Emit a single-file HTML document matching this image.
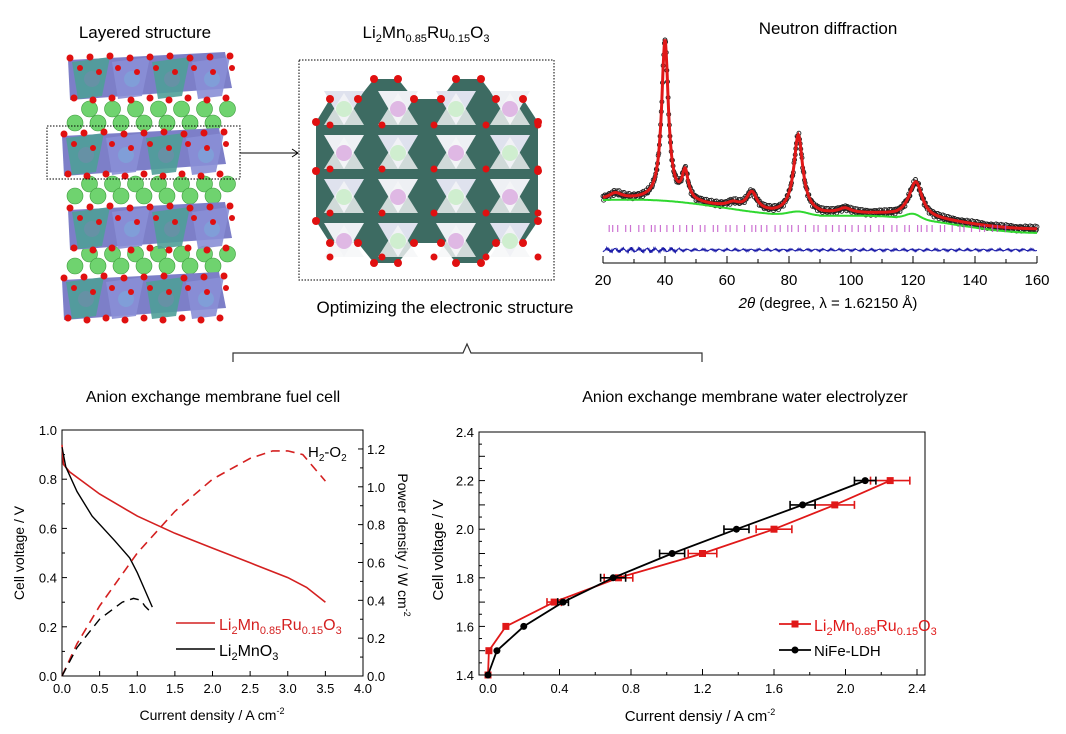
<!DOCTYPE html>
<html><head><meta charset="utf-8"><style>
body{margin:0;background:#fff;}
svg{display:block;font-family:"Liberation Sans",Arial,sans-serif;}
</style></head><body>
<svg id="s" width="1066" height="734" viewBox="0 0 1066 734" xmlns="http://www.w3.org/2000/svg">
<rect width="1066" height="734" fill="#fff"/>
<text x="145" y="38" font-size="17" text-anchor="middle">Layered structure</text>
<text x="426" y="38" font-size="17" text-anchor="middle">Li<tspan font-size="11" dy="4">2</tspan><tspan dy="-4">Mn</tspan><tspan font-size="11" dy="4">0.85</tspan><tspan dy="-4">Ru</tspan><tspan font-size="11" dy="4">0.15</tspan><tspan dy="-4">O</tspan><tspan font-size="11" dy="4">3</tspan></text>
<text x="828" y="34" font-size="17" text-anchor="middle">Neutron diffraction</text>
<text x="445" y="313" font-size="17" text-anchor="middle">Optimizing the electronic structure</text>
<text x="213" y="402" font-size="16" text-anchor="middle">Anion exchange membrane fuel cell</text>
<text x="745" y="402" font-size="16" text-anchor="middle">Anion exchange membrane water electrolyzer</text>
<path d="M233,362 L233,353 L463,353 L467,344 L471,353 L702,353 L702,362" fill="none" stroke="#333" stroke-width="1.2"/>
<g id="layers"></g>
<rect x="47" y="126" width="193" height="53" fill="none" stroke="#000" stroke-dasharray="1.5,1.5"/>
<path d="M240,153 L298,153 M292,149 L298,153 L292,157" fill="none" stroke="#000"/>
<rect x="299" y="60" width="255" height="220" fill="none" stroke="#000" stroke-dasharray="1.5,1.5"/>
<g id="top"></g>
<g id="nd"></g>
<g id="fc"></g>
<g id="el"></g>
</svg>
<script>
const NS="http://www.w3.org/2000/svg";
function el(p,t,a,txt){const e=document.createElementNS(NS,t);for(const k in a)e.setAttribute(k,a[k]);if(txt!==undefined)e.textContent=txt;p.appendChild(e);return e;}
const L=document.getElementById('layers');
const lay=[[52,100],[128,176],[202,250],[272,320]];
const greens=[[105,127],[180,200],[250,270]];
greens.forEach(([a,b])=>{for(let i=0;i<14;i++){const x=75+i*11.5+(i%2?3:0);const y=(i%2?a+4:b-4);el(L,'circle',{cx:x,cy:y,r:8,fill:'#6fd36f',stroke:'#3a9a3a','stroke-width':0.6});}});
lay.forEach(([a,b],li)=>{const off=li%2?-6:0;
 el(L,'polygon',{points:`${68+off},${a+8} ${225+off},${a} ${232+off},${b-12} ${70+off},${b}`,fill:'#7d7fc8'});
 for(let i=0;i<4;i++){const x=72+off+i*40;el(L,'polygon',{points:`${x},${a+10} ${x+38},${a+5} ${x+30},${b-4} ${x+6},${b-1}`,fill:i%2?'#8a8fd6':'#4f9e98',opacity:0.9});
  el(L,'circle',{cx:x+20,cy:(a+b)/2+3,r:8,fill:i%2?'#7ea2d8':'#6b8fa8',opacity:0.8});}
 for(let i=0;i<9;i++){el(L,'circle',{cx:70+off+i*20,cy:a+6-(i%3),r:3.5,fill:'#e01010'});el(L,'circle',{cx:74+off+i*19,cy:b-2+(i%2)*2,r:3.5,fill:'#e01010'});el(L,'circle',{cx:80+off+i*19,cy:(a+b)/2-8+(i%2)*4,r:3,fill:'#e01010'});}
});
const T=document.getElementById('top');
el(T,'polygon',{points:'316,122 330,99 358,99 374,79 398,79 414,99 441,99 456,79 481,79 496,99 523,99 538,122 538,221 523,243 496,243 481,263 456,263 441,243 414,243 398,263 374,263 358,243 330,243 316,221',fill:'#3d6b62'});
const cols=[344,398,456,510],rows=[105,149,193,237];
for(let r=0;r<4;r++)for(let c=0;c<4;c++){const x=cols[c],y=rows[r];
 el(T,'polygon',{points:`${x-20},${y-14} ${x+20},${y-14} ${x},${y+20}`,fill:(r+c)%2?'#eef0f4':'#dfe2ee'});
 el(T,'polygon',{points:`${x-20},${y+20} ${x+20},${y+20} ${x},${y-12}`,fill:'#f5f6f8',opacity:0.8});
 el(T,'circle',{cx:x,cy:y+4,r:8,fill:(r+c)%2?'#dfb8e4':'#cfeecf'});}
[[330,99],[358,99],[374,79],[398,79],[414,99],[441,99],[456,79],[481,79],[496,99],[523,99],[316,122],[538,122],[316,171],[538,171],[316,221],[538,221],[330,243],[358,243],[374,263],[398,263],[414,243],[441,243],[456,263],[481,263],[496,243],[523,243]].forEach(p=>el(T,'circle',{cx:p[0],cy:p[1],r:4,fill:'#e01010'}));
for(let r=0;r<4;r++)for(let c=0;c<5;c++)el(T,'circle',{cx:330+c*52,cy:125+r*44,r:3.5,fill:'#e01010'});
const N=document.getElementById('nd');
const X=t=>603+(t-20)*3.1;
function bg(t){return 200+(t-20)*0.19-3*Math.sin((t-20)/12)+(t>75&&t<90?-4*Math.exp(-((t-83)**2)/20):0)+(t>115&&t<127?-5*Math.exp(-((t-120)**2)/10):0);}
function pk(t){const p=[[40,160,1.3],[46.5,28,1.2],[68,18,2.0],[83,75,1.7],[121,30,2.4],[62,5,2.5],[98,5,2.5],[24,6,2.5]];let s=0;p.forEach(([c,h,w])=>s+=h/(1+((t-c)/w)**2));return s;}
let obs='',calc='',g='',d='';
for(let t=20;t<=160;t+=0.2){const yy=bg(t)-pk(t);const rnd=(Math.sin(t*37.1)*Math.cos(t*13.7))*3;obs+=`M${X(t)-2},${(yy+rnd).toFixed(1)}a2,2 0 1,0 4,0a2,2 0 1,0 -4,0`;calc+=(t==20?'M':'L')+X(t).toFixed(1)+','+yy.toFixed(1);g+=(t==20?'M':'L')+X(t).toFixed(1)+','+(bg(t)+(t>60?(t-60)*0.04:0)).toFixed(1);d+=(t==20?'M':'L')+X(t).toFixed(1)+','+(250+Math.sin(t*53.3)*Math.cos(t*7.1)*(t<45?3:1.5)).toFixed(1);}
el(N,'path',{d:obs,fill:'none',stroke:'#222','stroke-width':0.9});
el(N,'path',{d:g,fill:'none',stroke:'#2fd82f','stroke-width':2});
el(N,'path',{d:calc,fill:'none',stroke:'#e01818','stroke-width':3});
el(N,'path',{d:d,fill:'none',stroke:'#1a1aa8','stroke-width':1});
let tk='';for(let t=22;t<150;t+=1.1+Math.abs(Math.sin(t*3))*1.6){tk+=`M${X(t).toFixed(1)},225v7`;}
el(N,'path',{d:tk,stroke:'#c050c8','stroke-width':1.2,opacity:0.8});
el(N,'line',{x1:603,y1:263,x2:1037,y2:263,stroke:'#000'});
for(let t=20;t<=160;t+=10){el(N,'line',{x1:X(t),y1:263,x2:X(t),y2:t%20?259:256,stroke:'#000'});if(t%20==0)el(N,'text',{x:X(t),y:285,'font-size':15,'text-anchor':'middle'},t);}
const tt=el(N,'text',{x:828,y:308,'font-size':15,'text-anchor':'middle'});tt.innerHTML='<tspan font-style="italic">2θ</tspan> (degree, λ = 1.62150 Å)';
const F=document.getElementById('fc');
const fx=x=>62+x*75.25, fy=v=>676-v*246, fp=p=>676-p*189.2;
el(F,'rect',{x:62,y:430,width:301,height:246,fill:'none',stroke:'#000'});
for(let i=0;i<=8;i++){const x=fx(i*0.5);el(F,'line',{x1:x,y1:676,x2:x,y2:671,stroke:'#000'});el(F,'text',{x:x,y:693,'font-size':13,'text-anchor':'middle'},(i*0.5).toFixed(1));}
for(let i=0;i<=10;i++){const y=fy(i*0.1);el(F,'line',{x1:62,y1:y,x2:i%2?65:67,y2:y,stroke:'#000'});if(i%2==0)el(F,'text',{x:57,y:y+5,'font-size':13,'text-anchor':'end'},(i*0.1).toFixed(1));}
for(let i=0;i<=13;i++){const y=fp(i*0.1);el(F,'line',{x1:363,y1:y,x2:i%2?360:358,y2:y,stroke:'#000'});if(i%2==0)el(F,'text',{x:367,y:y+5,'font-size':13},(i*0.1).toFixed(1));}
function pl(p,pts,fxn,fyn,a){el(p,'path',Object.assign({d:pts.map((q,i)=>(i?'L':'M')+fxn(q[0]).toFixed(1)+','+fyn(q[1]).toFixed(1)).join(''),fill:'none'},a));}
pl(F,[[0,0.94],[0.02,0.86],[0.1,0.83],[0.5,0.74],[1,0.65],[1.5,0.58],[2,0.52],[2.5,0.46],[3,0.40],[3.25,0.36],[3.5,0.30]],fx,fy,{stroke:'#d42020','stroke-width':1.6});
pl(F,[[0,0.93],[0.05,0.85],[0.2,0.75],[0.4,0.65],[0.7,0.55],[0.9,0.48],[1.0,0.42],[1.1,0.35],[1.2,0.28]],fx,fy,{stroke:'#000','stroke-width':1.4});
pl(F,[[0,0],[0.2,0.17],[0.5,0.37],[1,0.65],[1.5,0.87],[2,1.04],[2.5,1.15],[2.8,1.19],[3.0,1.19],[3.2,1.17],[3.35,1.10],[3.5,1.03]],fx,fp,{stroke:'#d42020','stroke-width':1.6,'stroke-dasharray':'9,6'});
pl(F,[[0,0],[0.2,0.15],[0.5,0.30],[0.8,0.39],[0.95,0.41],[1.05,0.40],[1.1,0.37],[1.2,0.33]],fx,fp,{stroke:'#000','stroke-width':1.4,'stroke-dasharray':'9,6'});
el(F,'line',{x1:176,y1:623,x2:215,y2:623,stroke:'#d42020','stroke-width':1.6});
el(F,'line',{x1:176,y1:649,x2:215,y2:649,stroke:'#000','stroke-width':1.4});
el(F,'text',{x:219,y:630,'font-size':16,fill:'#d42020'}).innerHTML='Li<tspan font-size="11" dy="4">2</tspan><tspan dy="-4">Mn</tspan><tspan font-size="11" dy="4">0.85</tspan><tspan dy="-4">Ru</tspan><tspan font-size="11" dy="4">0.15</tspan><tspan dy="-4">O</tspan><tspan font-size="11" dy="4">3</tspan>';
el(F,'text',{x:219,y:656,'font-size':16}).innerHTML='Li<tspan font-size="11" dy="4">2</tspan><tspan dy="-4">MnO</tspan><tspan font-size="11" dy="4">3</tspan>';
el(F,'text',{x:308,y:457,'font-size':15}).innerHTML='H<tspan font-size="10" dy="4">2</tspan><tspan dy="-4">-O</tspan><tspan font-size="10" dy="4">2</tspan>';
el(F,'text',{x:0,y:0,'font-size':14,'text-anchor':'middle',transform:'translate(24,553) rotate(-90)'},'Cell voltage / V');
el(F,'text',{x:0,y:0,'font-size':14,'text-anchor':'middle',transform:'translate(398,545) rotate(90)'}).innerHTML='Power density / W cm<tspan font-size="9" dy="-6">-2</tspan>';
el(F,'text',{x:212,y:720,'font-size':14,'text-anchor':'middle'}).innerHTML='Current density / A cm<tspan font-size="9" dy="-6">-2</tspan>';
const E=document.getElementById('el');
const ex=x=>488+x*178.75, ey=v=>675-(v-1.4)*243;
el(E,'rect',{x:479,y:432,width:446,height:243,fill:'none',stroke:'#000'});
for(let i=0;i<=12;i++){const x=ex(i*0.2);el(E,'line',{x1:x,y1:675,x2:x,y2:i%2?672:669,stroke:'#000'});if(i%2==0)el(E,'text',{x:x,y:693,'font-size':13,'text-anchor':'middle'},(i*0.2).toFixed(1));}
for(let i=0;i<=20;i++){const y=ey(1.4+i*0.05);el(E,'line',{x1:479,y1:y,x2:i%2?482:485,y2:y,stroke:'#000'});if(i%4==0)el(E,'text',{x:474,y:y+5,'font-size':13,'text-anchor':'end'},(1.4+i*0.05).toFixed(1));}
const red=[[0,1.4,0],[0.005,1.5,0],[0.1,1.6,0],[0.37,1.7,0.04],[0.73,1.8,0.08],[1.2,1.9,0.08],[1.6,2.0,0.1],[1.94,2.1,0.11],[2.25,2.2,0.11]];
const blk=[[0,1.4,0],[0.05,1.5,0],[0.2,1.6,0],[0.42,1.7,0.03],[0.7,1.8,0.07],[1.03,1.9,0.07],[1.39,2.0,0.07],[1.76,2.1,0.07],[2.11,2.2,0.06]];
function ser(d,c,sq){pl(E,d,ex,ey,{stroke:c,'stroke-width':1.8});d.forEach(([x,v,e])=>{const y=ey(v);if(e){el(E,'path',{d:`M${ex(x-e)},${y}H${ex(x+e)}M${ex(x-e)},${y-4}v8M${ex(x+e)},${y-4}v8`,stroke:c,'stroke-width':1.6});}
 if(sq)el(E,'rect',{x:ex(x)-3.5,y:y-3.5,width:7,height:7,fill:c});else el(E,'circle',{cx:ex(x),cy:y,r:3.5,fill:c});});}
ser(red,'#e01818',1);ser(blk,'#000',0);
el(E,'line',{x1:779,y1:624,x2:811,y2:624,stroke:'#e01818','stroke-width':1.8});el(E,'rect',{x:791.5,y:620.5,width:7,height:7,fill:'#e01818'});
el(E,'line',{x1:779,y1:650,x2:811,y2:650,stroke:'#000','stroke-width':1.8});el(E,'circle',{cx:795,cy:650,r:3.5,fill:'#000'});
el(E,'text',{x:814,y:631,'font-size':16,fill:'#e01818'}).innerHTML='Li<tspan font-size="11" dy="4">2</tspan><tspan dy="-4">Mn</tspan><tspan font-size="11" dy="4">0.85</tspan><tspan dy="-4">Ru</tspan><tspan font-size="11" dy="4">0.15</tspan><tspan dy="-4">O</tspan><tspan font-size="11" dy="4">3</tspan>';
el(E,'text',{x:814,y:656,'font-size':15},'NiFe-LDH');
el(E,'text',{x:0,y:0,'font-size':15,'text-anchor':'middle',transform:'translate(443,550) rotate(-90)'},'Cell voltage / V');
el(E,'text',{x:700,y:721,'font-size':15,'text-anchor':'middle'}).innerHTML='Current densiy / A cm<tspan font-size="9" dy="-6">-2</tspan>';
</script>
</body></html>
